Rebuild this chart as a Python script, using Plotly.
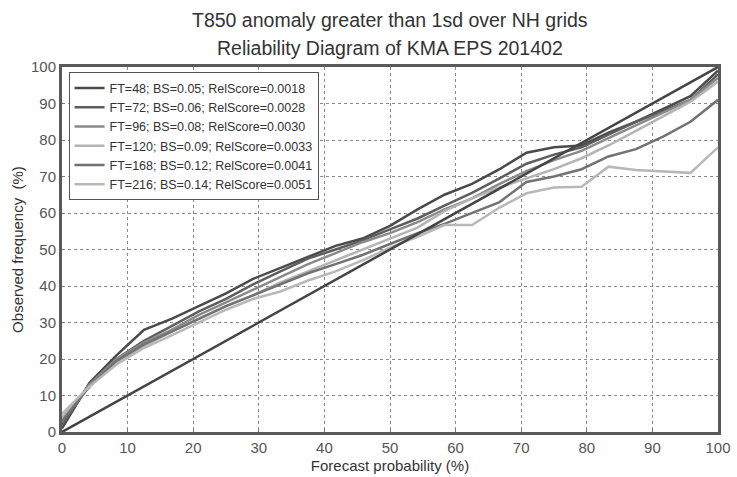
import plotly.graph_objects as go

# Forecast probability bins (%)
forecast_prob = [0, 4.2, 8.3, 12.5, 16.7, 20.8, 25, 29.2, 33.3, 37.5, 41.7, 45.8, 50,
                 54.2, 58.3, 62.5, 66.7, 70.8, 75, 79.2, 83.3, 87.5, 91.7, 95.8, 100]

labels = [
    "FT=48; BS=0.05; RelScore=0.0018",
    "FT=72; BS=0.06; RelScore=0.0028",
    "FT=96; BS=0.08; RelScore=0.0030",
    "FT=120; BS=0.09; RelScore=0.0033",
    "FT=168; BS=0.12; RelScore=0.0041",
    "FT=216; BS=0.14; RelScore=0.0051",
]

title_lines = ["T850 anomaly greater than 1sd over NH grids",
               "Reliability Diagram of KMA EPS 201402"]

ft48 = [1, 13.5, 21, 28, 31, 34.5, 38, 42, 45, 48, 51, 53, 56.5, 61, 65, 68, 72, 76.5,
        78, 78.5, 82, 85, 88.5, 92, 99]
ft72 = [2, 13, 20, 25, 29, 33, 36.5, 40.5, 44, 47.5, 50, 52.5, 55.5, 58.5, 62, 65.5, 69.5,
        73.5, 76, 78, 81.5, 85, 88, 91, 98]
ft96 = [3, 13, 20, 24.5, 28, 32, 35.5, 39, 42.5, 46, 49, 52, 54.5, 57.5, 61, 64, 68, 71.5,
        74.5, 77, 80.5, 84, 87.5, 91, 97]
ft120 = [4, 12.5, 19, 23.5, 27.5, 31, 34.5, 37.5, 41, 44, 47, 50, 53, 56, 60.5, 64, 67,
         69.5, 72, 75, 78.5, 82.5, 86.5, 90.5, 96]
ft168 = [3, 12.5, 19.5, 24, 27.5, 31, 34.5, 37.5, 40.5, 43.5, 46, 48.5, 51.5, 54.5, 57,
         60, 63, 68.5, 70, 72, 75.5, 77.5, 81, 85, 91]
ft216 = [5, 12.5, 18.5, 23, 26.5, 30, 33.5, 36.5, 38.5, 41.5, 44, 47, 50.5, 53.5, 56.7,
         56.7, 61.5, 65.4, 67, 67.2, 72.7, 71.8, 71.3, 71, 78]

series = [ft48, ft72, ft96, ft120, ft168, ft216]
colors = ["#4a4a4a", "#5e5e5e", "#8a8a8a", "#b4b4b4", "#727272", "#b8b8b8"]

diag = [0, 100]

fig = go.Figure()
for lab, vals, col in zip(labels, series, colors):
    fig.add_trace(go.Scatter(x=forecast_prob, y=vals, mode="lines", name=lab,
                             line=dict(color=col, width=2.5)))
fig.add_trace(go.Scatter(x=diag, y=diag, mode="lines", showlegend=False,
                         line=dict(color="#444444", width=2.5)))

axis_common = dict(
    range=[0, 100], dtick=10, showgrid=True, gridcolor="#8a8a8a", griddash="dot",
    gridwidth=1, zeroline=False, showline=True, linecolor="#5a5a5a", linewidth=3,
    mirror=True, ticks="inside", ticklen=3, tickcolor="#777777",
    tickfont=dict(size=15, color="#555555"), automargin=False,
)

# Two title lines placed above the plot area
for txt, ypos in zip(title_lines, [1.129, 1.052]):
    fig.add_annotation(text=txt, xref="paper", yref="paper", x=0.5, y=ypos,
                       xanchor="center", yanchor="middle", showarrow=False,
                       font=dict(size=19.5, color="#333333"))

fig.update_layout(
    width=737, height=477,
    margin=dict(l=62, r=19, t=67, b=45),
    paper_bgcolor="white", plot_bgcolor="white",
    font=dict(family="Liberation Sans, Arial, sans-serif", color="#333333"),
    xaxis=dict(axis_common, title=dict(text="Forecast probability (%)", standoff=6,
                                       font=dict(size=15, color="#333333"))),
    yaxis=dict(axis_common, title=dict(text="Observed frequency  (%)", standoff=4,
                                       font=dict(size=15, color="#333333"))),
    legend=dict(x=0.01, y=0.985, xanchor="left", yanchor="top", bgcolor="white",
                bordercolor="#555555", borderwidth=1, font=dict(size=12.5, color="#333333"),
                tracegroupgap=0),
    showlegend=True,
)

fig.write_html("out.html")
